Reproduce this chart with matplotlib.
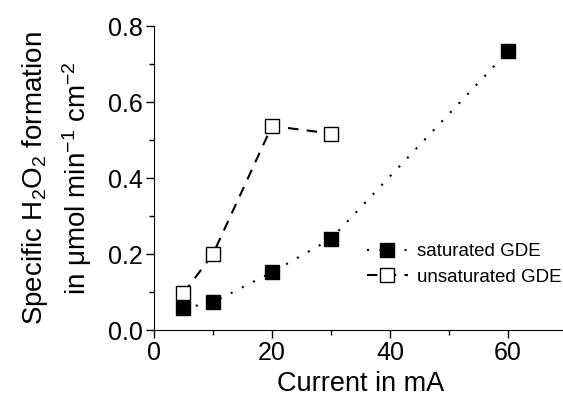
import matplotlib
matplotlib.use("Agg")
import matplotlib.pyplot as plt
from matplotlib.ticker import MultipleLocator, FormatStrFormatter

plt.rcParams['font.family'] = ['Liberation Sans', 'DejaVu Sans']
plt.rcParams['mathtext.fontset'] = 'custom'
plt.rcParams['mathtext.rm'] = 'Liberation Sans'
plt.rcParams['mathtext.it'] = 'Liberation Sans:italic'
plt.rcParams['mathtext.bf'] = 'Liberation Sans:bold'

current_sat = [5, 10, 20, 30, 60]
h2o2_sat = [0.057, 0.073, 0.152, 0.240, 0.733]
current_unsat = [5, 10, 20, 30]
h2o2_unsat = [0.097, 0.200, 0.537, 0.517]

fig = plt.figure(figsize=(5.63, 3.96), dpi=100)
ax = fig.add_axes([154/563, 66/396, 413/563, 304/396])

ax.plot(current_sat, h2o2_sat, color='black', lw=1.5, dashes=(1, 5),
        marker='s', ms=9.5, mfc='black', mec='black', label='saturated GDE')
ax.plot(current_unsat, h2o2_unsat, color='black', lw=1.5, dashes=(5, 4),
        marker='s', ms=9.5, mfc='white', mec='black', mew=1.0, label='unsaturated GDE')

ax.set_xlim(0, 70)
ax.set_ylim(0, 0.8)
ax.xaxis.set_major_locator(MultipleLocator(20))
ax.xaxis.set_minor_locator(MultipleLocator(10))
ax.yaxis.set_major_locator(MultipleLocator(0.2))
ax.yaxis.set_minor_locator(MultipleLocator(0.1))
ax.yaxis.set_major_formatter(FormatStrFormatter('%.1f'))
ax.spines['top'].set_visible(False)
ax.spines['right'].set_visible(False)
ax.tick_params(which='major', direction='out', length=6, width=1, labelsize=18, pad=2)
ax.tick_params(which='minor', direction='out', length=3.5, width=1)

ax.set_xlabel('Current in mA', fontsize=19.5, labelpad=4)
ax.set_ylabel('Specific H$_\\mathregular{2}$O$_\\mathregular{2}$ formation\n'
              'in μmol min$^\\mathregular{-1}$ cm$^\\mathregular{-2}$', fontsize=20,
              linespacing=1.4, labelpad=10)

leg = ax.legend(loc='upper left', bbox_to_anchor=(0.515, 0.285), frameon=False,
                fontsize=13.5, handlelength=2.2, handletextpad=0.5, borderpad=0,
                labelspacing=0.45, borderaxespad=0)

fig.savefig('out.png', dpi=100)
